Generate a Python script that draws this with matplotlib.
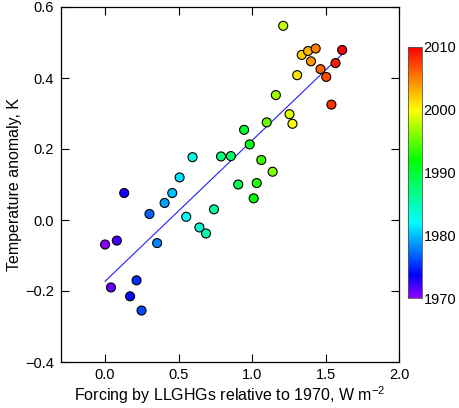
import matplotlib
matplotlib.use("Agg")
import matplotlib.pyplot as plt
import numpy as np
from matplotlib.colors import LinearSegmentedColormap

plt.rcParams['font.family'] = ['Liberation Sans', 'DejaVu Sans']
plt.rcParams['mathtext.fontset'] = 'custom'
plt.rcParams['mathtext.rm'] = 'Liberation Sans'
plt.rcParams['mathtext.it'] = 'Liberation Sans'

# data, one point per year
years = np.arange(1970, 2011)
forcing = [0.00, 0.04, 0.08, 0.13, 0.17, 0.214, 0.248, 0.302, 0.354, 0.405,
           0.457, 0.507, 0.552, 0.595, 0.642, 0.687, 0.741, 0.789, 0.856, 0.906,
           0.946, 0.984, 1.011, 1.032, 1.063, 1.10, 1.14, 1.162, 1.212, 1.255,
           1.275, 1.307, 1.338, 1.381, 1.401, 1.433, 1.466, 1.505, 1.54, 1.568,
           1.613]
anomaly = [-0.069, -0.19, -0.058, 0.076, -0.215, -0.170, -0.255, 0.017, -0.065, 0.048,
           0.076, 0.120, 0.009, 0.177, -0.021, -0.038, 0.030, 0.179, 0.180, 0.100,
           0.254, 0.213, 0.061, 0.104, 0.169, 0.275, 0.136, 0.352, 0.547, 0.298,
           0.271, 0.408, 0.465, 0.476, 0.447, 0.483, 0.425, 0.403, 0.325, 0.442,
           0.479]
xticks = [0.0, 0.5, 1.0, 1.5, 2.0]
yticks = [-0.4, -0.2, 0.0, 0.2, 0.4, 0.6]
cbar_ticks = [1970, 1980, 1990, 2000, 2010]

# rainbow like the one in the picture (purple -> red)
cmap = LinearSegmentedColormap.from_list("yr", [
    (0.0, (0.55, 0.0, 1.0)),
    (0.09, (0.0, 0.0, 1.0)),
    (0.30, (0.0, 1.0, 1.0)),
    (0.55, (0.0, 1.0, 0.0)),
    (0.75, (1.0, 1.0, 0.0)),
    (0.875, (1.0, 0.5, 0.0)),
    (1.0, (1.0, 0.0, 0.0)),
])

fig = plt.figure(figsize=(4.6, 4.08), dpi=100)
ax = fig.add_axes([61/460, 1-362/408, 338/460, 355/408])

# least squares line over the data range
k, b = np.polyfit(forcing, anomaly, 1)
xf = np.array([min(forcing), max(forcing)])
ax.plot(xf, k*xf + b, color='#1f1fff', lw=0.8, zorder=2)

sc = ax.scatter(forcing, anomaly, c=years, cmap=cmap, vmin=1970, vmax=2010,
                s=42, edgecolors='black', linewidths=0.8, zorder=3)

ax.set_xlim(-0.3, 2.0)
ax.set_ylim(-0.4, 0.6)
ax.set_xticks(xticks)
ax.set_yticks(yticks)
ax.set_xticklabels(['%.1f' % v for v in xticks])
ax.set_yticklabels([('%.1f' % v).replace('-', '\u2212') for v in yticks])
ax.tick_params(direction='in', length=6, width=0.8, top=True, right=True,
               labelsize=10.5, pad=5)
ax.tick_params(axis='x', pad=4)
for sp in ax.spines.values():
    sp.set_linewidth(0.9)
ax.set_xlabel(r'Forcing by LLGHGs relative to 1970, W m$^{-2}$', fontsize=11.5, labelpad=2)
ax.set_ylabel('Temperature anomaly, K', fontsize=11.5, labelpad=2)

cax = fig.add_axes([408/460, 1-298/408, 14/460, 251/408])
cb = fig.colorbar(sc, cax=cax, ticks=cbar_ticks)
cb.ax.tick_params(length=0, labelsize=10.5, pad=1)
cb.outline.set_linewidth(0.6)
cb.outline.set_edgecolor('#555555')

fig.savefig("out.png", dpi=100)
